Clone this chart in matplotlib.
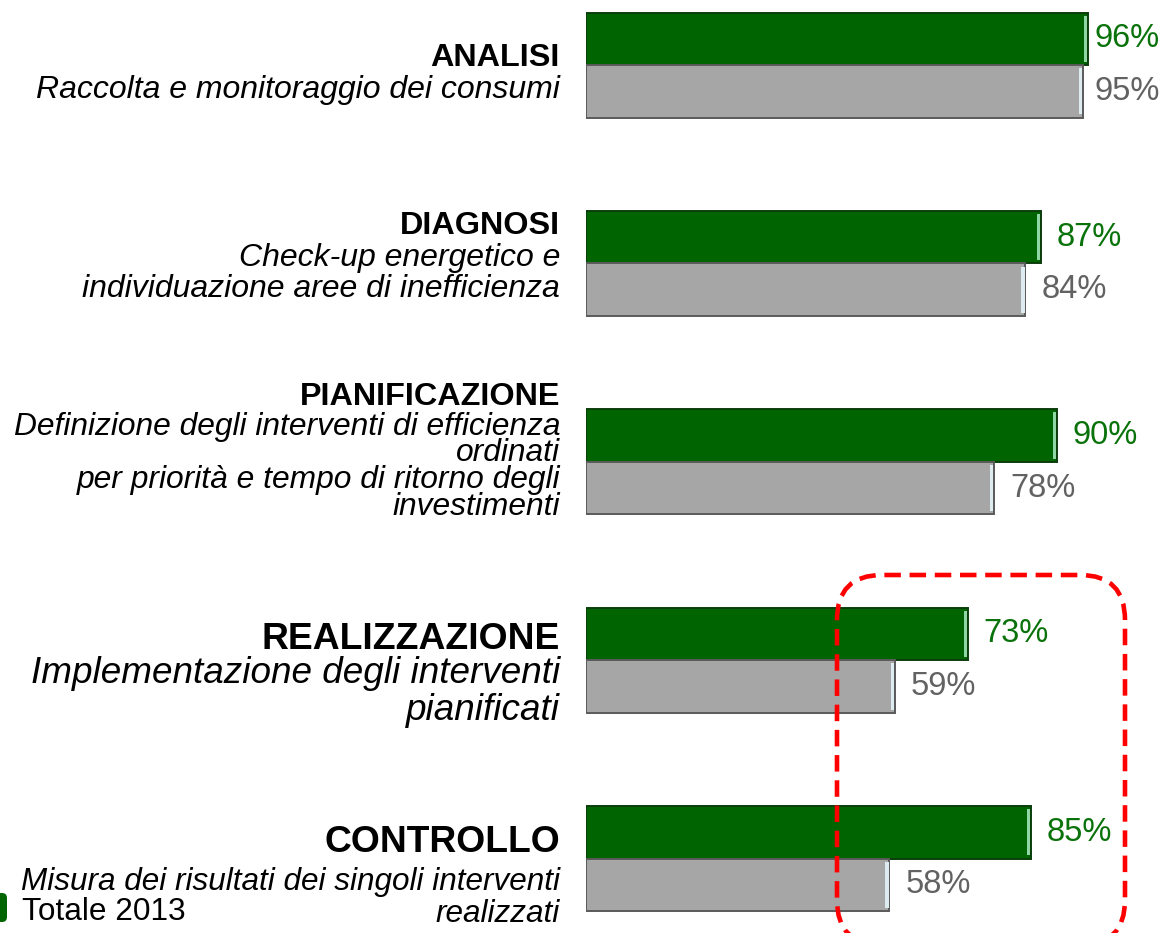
import numpy as np
import matplotlib
matplotlib.use("Agg")
import matplotlib.pyplot as plt
from matplotlib.patches import FancyBboxPatch
from matplotlib.transforms import IdentityTransform

plt.rcParams['font.family'] = ['Liberation Sans', 'DejaVu Sans']

# ---- data ----
titles = ["ANALISI", "DIAGNOSI", "PIANIFICAZIONE", "REALIZZAZIONE", "CONTROLLO"]
subtitles = [
    "Raccolta e monitoraggio dei consumi",
    "Check-up energetico e\nindividuazione aree di inefficienza",
    "Definizione degli interventi di efficienza\nordinati\nper priorità e tempo di ritorno degli\ninvestimenti",
    "Implementazione degli interventi\npianificati",
    "Misura dei risultati dei singoli interventi\nrealizzati",
]
totale_2013 = [96, 87, 90, 73, 85]
secondo = [95, 84, 78, 59, 58]
legend_label = "Totale 2013"

# ---- styles / layout ----
W, H = 1161, 933
GREEN = "#006400"
GREEN_EDGE = "#0b3d0b"
GREEN_HI = "#8fd8a4"
GREEN_TXT = "#0a720a"
GRAY = "#a6a6a6"
GRAY_EDGE = "#5a5a5a"
GRAY_HI = "#dcecf0"
GRAY_TXT = "#626262"
PX_PER_GROUP = 198.4

title_sizes = [23.3, 23.3, 23.3, 26.8, 26.8]
sub_sizes = [23, 23, 22.9, 26.6, 22.7]
sub_spacing = [1.0, 1.02, 0.86, 1.06, 1.08]
title_off = [-7, -37, -65, -21, -16]
sub_off = [25, 10, 5, 32, 39]

fig = plt.figure(figsize=(W / 100, H / 100), dpi=100)
ax = fig.add_axes([586 / W, 0, (1109 - 586) / W, 1])
ax.set_xlim(0, 100)
ax.set_ylim(4.375, -0.328)
ax.axis("off")

pos = np.arange(len(titles))
h = 52.5 / PX_PER_GROUP

ax.barh(pos - h / 2, totale_2013, height=h, color=GREEN, edgecolor=GREEN_EDGE, linewidth=1.4)
ax.barh(pos + h / 2, secondo, height=h, color=GRAY, edgecolor=GRAY_EDGE, linewidth=1.4)
# bevel highlights at the bar ends
ax.barh(pos - h / 2, [0.6] * len(pos), left=np.array(totale_2013) - 0.75, height=h * 0.88, color=GREEN_HI, linewidth=0)
ax.barh(pos + h / 2, [0.6] * len(pos), left=np.array(secondo) - 0.75, height=h * 0.88, color=GRAY_HI, linewidth=0)

gap = 16 / 5.23
xmax_lab = (1094 - 586) / 5.23
for i in pos:
    v1, v2 = totale_2013[i], secondo[i]
    ax.text(min(v1 + gap, xmax_lab), i - h / 2, f"{v1}%", color=GREEN_TXT, fontsize=23.5,
            ha="left", va="center")
    ax.text(min(v2 + gap, xmax_lab), i + h / 2, f"{v2}%", color=GRAY_TXT, fontsize=23.5,
            ha="left", va="center")

xl = -26 / 5.23
for i in pos:
    ax.text(xl, i + title_off[i] / PX_PER_GROUP, titles[i], fontsize=title_sizes[i],
            fontweight="bold", ha="right", va="center")
    ax.text(xl, i + sub_off[i] / PX_PER_GROUP, subtitles[i], fontsize=sub_sizes[i],
            style="italic", ha="right", va="center", multialignment="right",
            linespacing=sub_spacing[i])

# legend (partly cut at left edge)
fig.add_artist(FancyBboxPatch((-20, H - 922), 27, 29, boxstyle="round,pad=0,rounding_size=5",
                              facecolor=GREEN, edgecolor="none", transform=IdentityTransform()))
fig.text(22 / W, (H - 912) / H, legend_label, fontsize=22.7, ha="left", va="center")

# red dashed highlight box
fig.add_artist(FancyBboxPatch((837, -12), 288, 370, boxstyle="round,pad=0,rounding_size=45",
                              facecolor="none", edgecolor="#ff0000", linewidth=3.3,
                              linestyle=(0, (3.6, 1.9)), transform=IdentityTransform()))

fig.savefig("out.png", dpi=100, facecolor="white")
